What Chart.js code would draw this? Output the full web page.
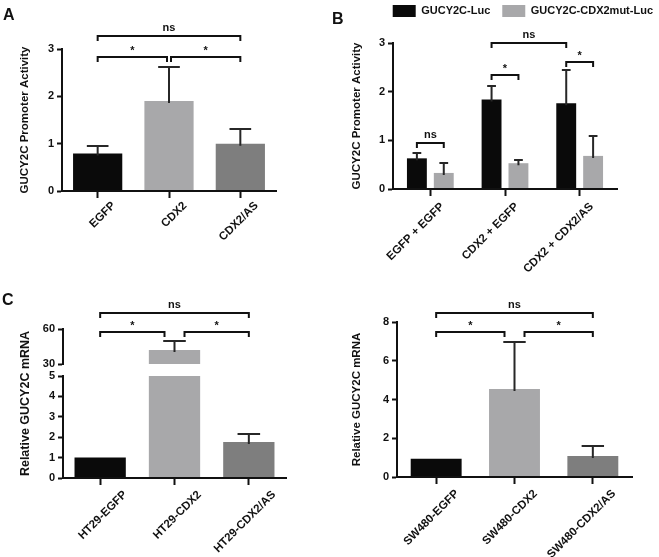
<!DOCTYPE html>
<html>
<head>
<meta charset="utf-8">
<script src="https://cdn.jsdelivr.net/npm/chart.js@4.4.1/dist/chart.umd.min.js"></script>
<style>
    html, body { margin: 0; padding: 0; background: #fff; }
    #wrap { position: relative; width: 659px; height: 557px; overflow: hidden; font-family: "Liberation Sans", Arial, sans-serif; }
    canvas { position: absolute; }
    .tag { position: absolute; font-weight: bold; font-size: 16px; color: #111; line-height: 1; }
</style>
</head>
<body>
<div id="wrap">
    <canvas id="chartA" width="330" height="280" style="left:0;top:0;width:330px;height:280px"></canvas>
    <canvas id="chartB" width="329" height="290" style="left:330px;top:0;width:329px;height:290px"></canvas>
    <canvas id="chartC1" width="330" height="267" style="left:0;top:290px;width:330px;height:267px"></canvas>
    <canvas id="chartC2" width="329" height="267" style="left:330px;top:290px;width:329px;height:267px"></canvas>
    <div class="tag" style="left:3px;top:7px">A</div>
    <div class="tag" style="left:332px;top:11px">B</div>
    <div class="tag" style="left:2px;top:292px">C</div>
</div>
<script>
// Panel A - promoter activity
const aLabels = ["EGFP", "CDX2", "CDX2/AS"];
const aValues = [0.79, 1.9, 1.0];
const aErrors = [0.16, 0.71, 0.31];

// Panel B - two reporters
const bLabels = ["EGFP + EGFP", "CDX2 + EGFP", "CDX2 + CDX2/AS"];
const bSeries = ["GUCY2C-Luc", "GUCY2C-CDX2mut-Luc"];
const bLucValues = [0.63, 1.84, 1.76];
const bLucErrors = [0.12, 0.28, 0.69];
const bMutValues = [0.33, 0.53, 0.68];
const bMutErrors = [0.21, 0.07, 0.4];

// Panel C - HT29 mRNA (broken axis)
const htLabels = ["HT29-EGFP", "HT29-CDX2", "HT29-CDX2/AS"];
const htValues = [1.0, 42, 1.77];
const htErrors = [0, 7.6, 0.41];

// Panel C - SW480 mRNA
const swLabels = ["SW480-EGFP", "SW480-CDX2", "SW480-CDX2/AS"];
const swValues = [0.94, 4.54, 1.08];
const swErrors = [0, 2.41, 0.52];

// significance brackets: ends are bar indexes (or [dataset, index]), level in data units
const aBrackets = [
    { from: 0, to: 1, level: 2.83, label: "*", trimTo: true },
    { from: 1, to: 2, level: 2.83, label: "*", trimFrom: true },
    { from: 0, to: 2, level: 3.27, label: "ns" }
];
const bBrackets = [
    { from: [0, 0], to: [1, 0], level: 0.95, label: "ns" },
    { from: [0, 1], to: [1, 1], level: 2.34, label: "*" },
    { from: [0, 2], to: [1, 2], level: 2.61, label: "*" },
    { from: [0, 1], to: [0, 2], level: 3.0, label: "ns" }
];
const htBrackets = [
    { from: 0, to: 1, level: 57.4, label: "*", trimTo: true },
    { from: 1, to: 2, level: 57.4, label: "*", trimFrom: true },
    { from: 0, to: 2, level: 73.7, label: "ns" }
];
const swBrackets = [
    { from: 0, to: 1, level: 7.48, label: "*", trimTo: true },
    { from: 1, to: 2, level: 7.48, label: "*", trimFrom: true },
    { from: 0, to: 2, level: 8.46, label: "ns" }
];

const FONT = "'Liberation Sans', Arial, sans-serif";
const INK = "#111";
const BLACK = "#0a0a0a";
const LIGHT = "#a8a8aa";
const DARK = "#7e7e7e";

function bold(size) {
    return { family: FONT, size: size, weight: "bold" };
}
function fixWidth(w) {
    return function (scale) { scale.width = w; };
}
function fixHeight(h) {
    return function (scale) { scale.height = h; };
}

function xScale(height, shift, pad) {
    return {
        type: "category",
        offset: true,
        grid: { display: true, drawOnChartArea: false, drawTicks: true, tickLength: 7, tickWidth: 2, tickColor: INK, offset: false },
        border: { display: true, color: INK, width: 2, z: 1 },
        ticks: { font: bold(11.5), color: INK, minRotation: 45, maxRotation: 45, autoSkip: false, padding: pad, labelOffset: shift },
        afterFit: fixHeight(height)
    };
}

function yScale(min, max, step, width, title, titleSize, titlePad) {
    return {
        type: "linear",
        position: "left",
        min: min,
        max: max,
        grid: { display: true, drawOnChartArea: false, drawTicks: true, tickLength: 5, tickWidth: 2, tickColor: INK },
        border: { display: true, color: INK, width: 2 },
        ticks: { stepSize: step, font: bold(11), color: INK, padding: 3, autoSkip: false },
        title: { display: !!title, text: title || "", font: bold(titleSize || 11), color: INK, padding: { top: titlePad || 0, bottom: 0 } },
        afterFit: fixWidth(width)
    };
}

// empty axis used only to reserve room in the layout
function spacer(position, size, extra) {
    const s = {
        type: "linear",
        position: position,
        min: 0,
        max: 1,
        ticks: { display: false },
        grid: { display: false },
        border: { display: false },
        afterFit: (position === "top" || position === "bottom") ? fixHeight(size) : fixWidth(size)
    };
    return Object.assign(s, extra || {});
}

// clip every bar dataset to its own value axis and draw the upper error bars
const barDecor = {
    id: "barDecor",
    beforeDatasetDraw(chart, args) {
        const s = args.meta.vScale;
        const area = chart.chartArea;
        const ctx = chart.ctx;
        ctx.save();
        ctx.beginPath();
        ctx.rect(area.left, s.top, area.right - area.left, s.bottom - s.top);
        ctx.clip();
    },
    afterDatasetDraw(chart, args) {
        const ds = chart.data.datasets[args.index];
        const meta = args.meta;
        const ctx = chart.ctx;
        if (ds.errors) {
            ctx.strokeStyle = "#272727";
            ctx.lineWidth = 2;
            meta.data.forEach(function (bar, i) {
                const err = ds.errors[i];
                if (!err) return;
                const v = ds.data[i];
                const yBar = meta.vScale.getPixelForValue(v);
                const yTop = Math.round(meta.vScale.getPixelForValue(v + err));
                const half = bar.width * 0.22;
                ctx.beginPath();
                ctx.moveTo(bar.x, yBar + 2);
                ctx.lineTo(bar.x, yTop);
                ctx.moveTo(bar.x - half, yTop);
                ctx.lineTo(bar.x + half, yTop);
                ctx.stroke();
            });
        }
        ctx.restore();
    }
};

const sigBrackets = {
    id: "sigBrackets",
    afterDraw(chart, args, opts) {
        if (!opts.items) return;
        const ctx = chart.ctx;
        const yS = chart.scales[opts.axis || "y"];
        const gap = opts.gap || 0;
        function xOf(end) {
            const ds = Array.isArray(end) ? end[0] : 0;
            const i = Array.isArray(end) ? end[1] : end;
            return chart.getDatasetMeta(ds).data[i].x;
        }
        ctx.save();
        ctx.strokeStyle = INK;
        ctx.fillStyle = INK;
        ctx.lineWidth = 2;
        ctx.font = "bold 11px " + FONT;
        ctx.textAlign = "center";
        ctx.textBaseline = "alphabetic";
        opts.items.forEach(function (b) {
            const x1 = xOf(b.from) + (b.trimFrom ? gap : 0);
            const x2 = xOf(b.to) - (b.trimTo ? gap : 0);
            const y = Math.round(yS.getPixelForValue(b.level));
            ctx.beginPath();
            ctx.moveTo(x1, y + 5);
            ctx.lineTo(x1, y);
            ctx.lineTo(x2, y);
            ctx.lineTo(x2, y + 5);
            ctx.stroke();
            ctx.fillText(b.label, (x1 + x2) / 2, y - (b.label === "*" ? 3 : 5));
        });
        ctx.restore();
    }
};

Chart.register(barDecor, sigBrackets);

// Panel A
new Chart(document.getElementById("chartA"), {
    type: "bar",
    data: {
        labels: aLabels,
        datasets: [{
            data: aValues,
            errors: aErrors,
            backgroundColor: [BLACK, LIGHT, DARK],
            borderWidth: 0,
            categoryPercentage: 1,
            barPercentage: 0.69
        }]
    },
    options: {
        responsive: false,
        animation: false,
        layout: { padding: { top: 49, right: 54, left: 0, bottom: 0 } },
        plugins: {
            legend: { display: false },
            tooltip: { enabled: false },
            sigBrackets: { axis: "y", gap: 2, items: aBrackets }
        },
        scales: {
            x: xScale(89, 16, 1),
            y: yScale(0, 3, 1, 62, "GUCY2C Promoter Activity", 11.5, 17.5)
        }
    }
});

// Panel B
new Chart(document.getElementById("chartB"), {
    type: "bar",
    data: {
        labels: bLabels,
        datasets: [{
            label: bSeries[0],
            data: bLucValues,
            errors: bLucErrors,
            backgroundColor: BLACK,
            borderWidth: 0,
            categoryPercentage: 0.72,
            barPercentage: 0.74
        }, {
            label: bSeries[1],
            data: bMutValues,
            errors: bMutErrors,
            backgroundColor: LIGHT,
            borderWidth: 0,
            categoryPercentage: 0.72,
            barPercentage: 0.74
        }]
    },
    options: {
        responsive: false,
        animation: false,
        layout: { padding: { top: -7, right: -6, left: 0, bottom: 0 } },
        plugins: {
            legend: {
                display: true,
                position: "top",
                align: "end",
                labels: { boxWidth: 23, boxHeight: 12, padding: 12, font: bold(11), color: INK }
            },
            tooltip: { enabled: false },
            sigBrackets: { axis: "y", gap: 0, items: bBrackets }
        },
        scales: {
            x: xScale(101, 12, 4),
            y: yScale(0, 3, 1, 63, "GUCY2C Promoter Activity", 11.5, 20),
            padTop: spacer("top", 16),
            padRight: spacer("right", 48)
        }
    }
});

// Panel C, HT29 with broken axis: two stacked value axes plus a spacer
new Chart(document.getElementById("chartC1"), {
    type: "bar",
    data: {
        labels: htLabels,
        datasets: [{
            data: htValues,
            errors: htErrors,
            yAxisID: "y",
            grouped: false,
            backgroundColor: [BLACK, LIGHT, DARK],
            borderWidth: 0,
            categoryPercentage: 1,
            barPercentage: 0.69
        }, {
            data: htValues,
            errors: htErrors,
            yAxisID: "yHigh",
            grouped: false,
            backgroundColor: [BLACK, LIGHT, DARK],
            borderWidth: 0,
            categoryPercentage: 1,
            barPercentage: 0.69
        }]
    },
    options: {
        responsive: false,
        animation: false,
        layout: { padding: { top: 39, right: 44, left: 0, bottom: 0 } },
        plugins: {
            legend: { display: false },
            tooltip: { enabled: false },
            sigBrackets: { axis: "yHigh", gap: 10, items: htBrackets }
        },
        scales: {
            x: xScale(79, 25, 3),
            yTitle: spacer("left", 30, {
                weight: 3,
                title: { display: true, text: "Relative GUCY2C mRNA", font: bold(12.5), color: INK, padding: { top: 18, bottom: 0 } }
            }),
            yHigh: Object.assign(yScale(30, 60, 30, 33), { stack: "ht", stackWeight: 35, weight: 2 }),
            yGap: spacer("left", 33, { stack: "ht", stackWeight: 12, weight: 1 }),
            y: Object.assign(yScale(0, 5, 1, 33), { stack: "ht", stackWeight: 102, weight: 0 })
        }
    }
});

// Panel C, SW480
new Chart(document.getElementById("chartC2"), {
    type: "bar",
    data: {
        labels: swLabels,
        datasets: [{
            data: swValues,
            errors: swErrors,
            backgroundColor: [BLACK, LIGHT, DARK],
            borderWidth: 0,
            categoryPercentage: 1,
            barPercentage: 0.65
        }]
    },
    options: {
        responsive: false,
        animation: false,
        layout: { padding: { top: 32, right: 27, left: 0, bottom: 0 } },
        plugins: {
            legend: { display: false },
            tooltip: { enabled: false },
            sigBrackets: { axis: "y", gap: 10, items: swBrackets }
        },
        scales: {
            x: xScale(80, 21, 3),
            y: yScale(0, 8, 2, 67, "Relative GUCY2C mRNA", 11.5, 20)
        }
    }
});
</script>
</body>
</html>
